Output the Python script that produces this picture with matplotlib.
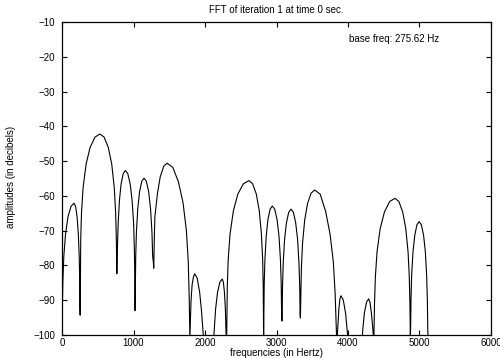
import matplotlib
matplotlib.use("Agg")
import matplotlib.pyplot as plt

plt.rcParams['font.family'] = ['Liberation Sans', 'DejaVu Sans']

# spectrum (Hz, dB), lobe by lobe
freq_hz = [
    0, 5, 12, 25, 50, 84, 126, 168, 190, 211, 228, 241, 248, 251, 254,
    262, 273, 295, 337, 392, 461, 530, 589, 648, 696, 731, 750, 760, 767,
    775, 785, 803, 826, 856, 886, 920, 954, 981, 1002, 1012, 1018, 1022,
    1026, 1031, 1041, 1060, 1085, 1116, 1147, 1180, 1212, 1238, 1258, 1268, 1277,
    1283, 1290, 1299, 1335, 1374, 1422, 1470, 1550, 1629, 1693, 1740, 1766, 1780, 1788,
    1796, 1805, 1820, 1839, 1856, 1890, 1924, 1951, 1976, 1985,
    2110, 2127, 2148, 2175, 2208, 2242, 2257, 2272, 2285, 2294, 2303,
    2312, 2325, 2350, 2397, 2459, 2537, 2615, 2666, 2718, 2759, 2789, 2806, 2814, 2820,
    2824, 2828, 2838, 2856, 2880, 2911, 2941, 2975, 3008, 3035, 3055, 3066, 3071, 3075,
    3079, 3084, 3094, 3113, 3139, 3171, 3203, 3236, 3268, 3295, 3314, 3325, 3330, 3334,
    3340, 3348, 3364, 3394, 3434, 3484, 3534, 3611, 3688, 3749, 3795, 3820, 3832, 3841,
    3848, 3858, 3872, 3887, 3902, 3935, 3968, 3994, 4013,
    4185, 4207, 4230, 4260, 4289, 4307, 4326, 4340, 4352, 4362,
    4371, 4383, 4406, 4450, 4510, 4583, 4657, 4711, 4765, 4808, 4840, 4857, 4866, 4872,
    4876, 4881, 4890, 4909, 4934, 4964, 4995, 5026, 5057, 5082, 5100, 5110, 5115, 5119,
    5135]
amp_db = [
    -100, -92.3, -84.6, -77.5, -70.8, -66.0, -63.0, -62.1, -63.0, -66.0, -70.8, -77.5, -84.6, -92.3, -94.3,
    -72.4, -64.7, -57.6, -50.9, -46.1, -43.1, -42.2, -43.1, -46.1, -50.9, -57.6, -64.7, -72.4, -82.4,
    -75.2, -68.1, -61.4, -56.6, -53.6, -52.7, -53.6, -56.6, -61.4, -68.1, -75.2, -82.9, -93.0,
    -85.1, -77.4, -70.3, -63.6, -58.8, -55.8, -54.9, -55.8, -58.8, -63.6, -70.3, -77.4, -78.9,
    -80.8, -73.1, -66.0, -59.3, -54.5, -51.5, -50.6, -51.8, -56.0, -62.0, -70.0, -79.0, -90.0, -101,
    -96.0, -90.0, -85.5, -83.2, -82.4, -83.6, -87.5, -93.0, -100, -106,
    -106, -99.3, -92.6, -87.8, -84.8, -83.9, -84.8, -87.8, -92.6, -99.3, -101,
    -85.8, -78.1, -71.0, -64.3, -59.5, -56.5, -55.6, -56.5, -59.5, -64.3, -71.0, -78.1, -85.8, -101,
    -93.1, -85.4, -78.3, -71.6, -66.8, -63.8, -62.9, -63.8, -66.8, -71.6, -78.3, -85.4, -93.1, -96.0,
    -94.0, -86.3, -79.2, -72.5, -67.7, -64.7, -63.8, -64.7, -67.7, -72.5, -79.2, -86.3, -94.0, -95.1,
    -88.5, -80.8, -73.7, -67.0, -62.2, -59.2, -58.3, -59.5, -64.5, -71.0, -79.0, -88.0, -95.0, -101,
    -101, -97.4, -92.6, -89.6, -88.7, -90.0, -94.0, -100, -106,
    -106, -98.3, -93.5, -90.5, -89.6, -90.5, -93.5, -96.5, -99.5, -101,
    -90.9, -83.2, -76.1, -69.4, -64.6, -61.6, -60.7, -61.6, -64.6, -69.4, -76.1, -83.2, -90.9, -101,
    -97.6, -89.9, -82.8, -76.1, -71.3, -68.3, -67.4, -68.3, -71.3, -76.1, -82.8, -89.9, -97.6, -101,
    -108]

x_ticks = [0, 1000, 2000, 3000, 4000, 5000, 6000]
y_ticks = [-100, -90, -80, -70, -60, -50, -40, -30, -20, -10]

fig = plt.figure(figsize=(5.0, 3.58), dpi=100)
ax = fig.add_axes([0.124, 0.0642, 0.858, 0.8743])

ax.plot(freq_hz, amp_db, color='black', linewidth=0.8)

ax.set_xlim(0, 6000)
ax.set_ylim(-100, -10)
ax.set_xticks(x_ticks)
ax.set_yticks(y_ticks)
ax.tick_params(direction='in', top=True, right=True, length=3.5, width=0.8,
               labelsize=7)
ax.tick_params(axis='x', pad=2.5)
ax.tick_params(axis='y', pad=5)
for s in ax.spines.values():
    s.set_linewidth(0.9)

ax.text(5273, -14.9, "base freq: 275.62 Hz", ha='right', va='center', fontsize=7)

fig.text(0.552, 0.972, "FFT of iteration 1 at time 0 sec.", ha='center',
         va='center', fontsize=7)
fig.text(0.552, 0.014, "frequencies (in Hertz)", ha='center', va='center',
         fontsize=7)
fig.text(0.022, 0.506, "amplitudes (in decibels)", ha='center', va='center',
         rotation=90, fontsize=7)

fig.savefig("out.png", dpi=100)
